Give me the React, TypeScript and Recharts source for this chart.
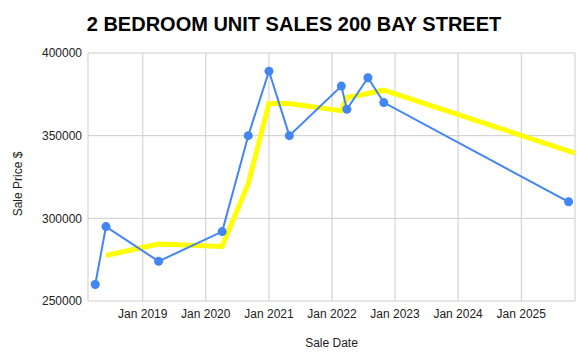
import React from 'react';
import { LineChart, Line, XAxis, YAxis, CartesianGrid } from 'recharts';

const saleDates = ['2018-04-01', '2018-06-02', '2019-04-03', '2020-04-05', '2020-09-03', '2021-01-01', '2021-04-29', '2022-02-24', '2022-03-28', '2022-07-28', '2022-10-28', '2025-10-02'];
const salePrices = [260000, 295000, 274000, 292000, 350000, 389000, 350000, 380000, 366000, 385000, 370000, 310000];

const trendDates = ['2018-06-02', '2019-04-03', '2020-04-05', '2020-09-03', '2021-01-01', '2021-04-29', '2022-02-24', '2022-03-28', '2022-07-28', '2022-10-28', '2025-11-08'];
const trendPrices = [277500, 284500, 283000, 321000, 369500, 369500, 365000, 373000, 375500, 377500, 339500];

const xTickDates = ['2019-01-01', '2020-01-01', '2021-01-01', '2022-01-01', '2023-01-01', '2024-01-01', '2025-01-01'];
const yTicks = [250000, 300000, 350000, 400000];
const xDomainDates = ['2018-02-18', '2025-11-08'];

const toTs = (d: string) => new Date(d + 'T00:00:00Z').getTime();

const salesData = saleDates.map((d, i) => ({ t: toTs(d), price: salePrices[i] }));
const trendData = trendDates.map((d, i) => ({ t: toTs(d), trend: trendPrices[i] }));
const xTicks = xTickDates.map(toTs);

const fmtDate = (v: number) => {
  const d = new Date(v);
  return 'Jan ' + d.getUTCFullYear();
};

const FONT = '"Liberation Sans", Arial, sans-serif';

export default function App() {
  return (
    <div style={{ position: 'absolute', left: 0, top: 0, width: 588, height: 361, background: '#fff', fontFamily: FONT }}>
      <div style={{ position: 'absolute', left: 0, top: 13, width: 588, textAlign: 'center', fontSize: 20, fontWeight: 'bold', color: '#000', lineHeight: '23px' }}>
        2 BEDROOM UNIT SALES 200 BAY STREET
      </div>
      <LineChart width={588} height={361} margin={{ top: 53, right: 13, left: 0, bottom: 0 }}>
        <CartesianGrid stroke="#cccccc" strokeWidth={1} />
        <XAxis
          dataKey="t"
          type="number"
          scale="time"
          domain={[toTs(xDomainDates[0]), toTs(xDomainDates[1])]}
          ticks={xTicks}
          tickFormatter={fmtDate}
          allowDataOverflow
          height={60}
          axisLine={false}
          tickLine={false}
          tickSize={0}
          tickMargin={8}
          tick={{ fill: '#222', fontSize: 12, fontFamily: FONT }}
          label={{ value: 'Sale Date', position: 'insideBottom', offset: 14, fill: '#222', fontSize: 12, fontFamily: FONT }}
        />
        <YAxis
          type="number"
          domain={[250000, 400000]}
          ticks={yTicks}
          width={88}
          axisLine={false}
          tickLine={false}
          tickSize={0}
          tickMargin={6}
          tick={{ fill: '#222', fontSize: 12, fontFamily: FONT }}
          label={{ value: 'Sale Price $', angle: -90, position: 'center', dx: -26, dy: 7, fill: '#222', fontSize: 12, fontFamily: FONT }}
        />
        <Line
          data={trendData}
          dataKey="trend"
          type="linear"
          stroke="#ffff00"
          strokeWidth={5}
          dot={false}
          activeDot={false}
          isAnimationActive={false}
        />
        <Line
          data={salesData}
          dataKey="price"
          type="linear"
          stroke="#4285f4"
          strokeWidth={2}
          dot={{ r: 4.5, fill: '#4285f4', stroke: '#4285f4', strokeWidth: 0 }}
          activeDot={false}
          isAnimationActive={false}
        />
      </LineChart>
    </div>
  );
}
